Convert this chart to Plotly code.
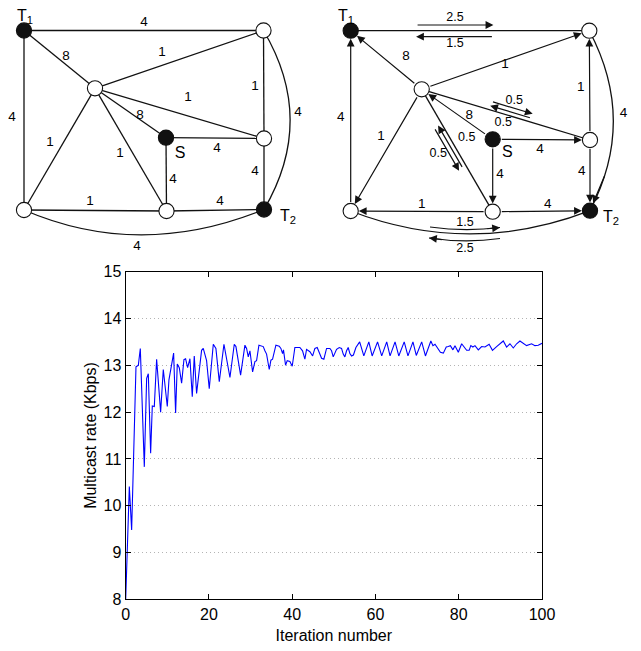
import math
import plotly.graph_objects as go

# ---------------- line chart data ----------------
iteration = [0, 0.87, 1.43, 2.47, 3.03, 3.51, 4.47, 5.03, 5.43, 5.99, 6.39, 6.87, 7.43, 8.39, 9.03,
             9.99, 10.39, 11.03, 11.51, 11.99, 12.39, 12.87, 13.43, 13.99, 14.39, 14.87, 15.43, 15.99,
             16.47, 17.03, 17.67, 18.23, 18.63, 19.43, 20.07, 21.04, 21.67, 22.48, 23.6, 25.04, 26.08,
             26.48, 27.6, 28.64, 29.04, 29.44, 29.84, 30.48, 31.04, 31.44, 32.0, 33.04, 33.44, 33.84,
             34.48, 34.88, 35.28, 36.08, 36.88, 37.28, 37.68, 37.9, 38.4, 38.8, 39.44, 40.0, 40.64,
             41.84, 42.48, 43.04, 43.44, 44.25, 44.9, 45.45, 46.0, 46.5, 47.05, 47.6, 48.25, 49.05,
             49.45, 49.85, 50.65, 51.3, 51.85, 52.25, 52.65, 53.05, 53.45, 53.85, 54.25, 54.7, 55.3,
             56.2, 57.2, 58.4, 59.2, 60.5, 61.5, 62.7, 63.5, 64.7, 65.6, 66.9, 67.8, 69.0, 69.8, 71.1,
             72.0, 73.3, 73.8, 74.3, 74.9, 75.6, 76.3, 77.0, 77.5, 78.0, 78.6, 79.1, 79.9, 80.7, 81.9,
             82.5, 82.9, 83.4, 83.9, 84.7, 85.5, 86.3, 87.3, 88.1, 89.1, 90.0, 90.7, 91.5, 92.3, 93.1,
             93.9, 94.7, 95.5, 96.3, 97.5, 98.3, 99.1, 100]
rate = [8.0, 10.41, 9.48, 12.97, 13.0, 13.36, 10.83, 12.72, 12.82, 11.12, 12.13, 12.12, 13.13, 12.0, 12.91,
        12.12, 12.69, 13.0, 13.26, 11.98, 13.03, 12.95, 12.62, 13.12, 13.14, 12.95, 13.14, 12.33,
        13.2, 12.4, 12.96, 13.32, 13.36, 13.1, 12.5, 13.45, 13.36, 12.65, 13.45, 12.74, 13.45,
        13.4, 12.79, 13.43, 13.36, 13.18, 13.31, 12.86, 13.08, 13.1, 13.43, 13.4, 13.31, 13.24,
        12.91, 13.11, 13.13, 13.43, 13.41, 13.36, 13.25, 13.33, 13.0, 13.1, 13.08, 12.98, 13.38,
        13.38, 13.31, 13.13, 13.34, 13.29, 13.2, 13.36, 13.38, 13.25, 13.15, 13.13, 13.36, 13.36,
        13.31, 13.18, 13.34, 13.38, 13.36, 13.24, 13.18, 13.31, 13.38, 13.25, 13.2, 13.22, 13.38,
        13.5, 13.2, 13.5, 13.2, 13.5, 13.2, 13.5, 13.2, 13.5, 13.2, 13.5, 13.2, 13.5, 13.21, 13.5,
        13.2, 13.52, 13.42, 13.45, 13.36, 13.28, 13.26, 13.39, 13.4, 13.42, 13.33, 13.42, 13.28, 13.46, 13.32,
        13.32, 13.42, 13.39, 13.42, 13.33, 13.4, 13.39, 13.45, 13.32, 13.4, 13.46, 13.52, 13.39, 13.46, 13.37,
        13.46, 13.52, 13.46, 13.42, 13.46, 13.42, 13.43, 13.47]
x_ticks = [0, 20, 40, 60, 80, 100]
y_ticks = [8, 9, 10, 11, 12, 13, 14, 15]

# ---------------- network diagrams (pixel layout of the drawing) ----------------
node_names = ["T1", "TR", "C", "S", "RM", "BL", "BM", "T2"]
node_filled = [True, False, False, True, False, False, False, True]
left_node_x = [24, 263.5, 95, 166, 264, 24, 166.5, 264]
left_node_y = [30.5, 30.5, 88.3, 137.7, 138.5, 210, 211, 209.5]
right_node_x = [350.7, 589.3, 421.7, 492.7, 590, 350.7, 492.7, 590]
right_node_y = [30.7, 30.7, 89.3, 139.3, 140, 211, 211.7, 210.7]

node_label_text = ["T<sub>1</sub>", "S", "T<sub>2</sub>"]
left_node_label_x = [25, 180, 288]
left_node_label_y = [17, 154, 217]
right_node_label_x = [346, 507.3, 611]
right_node_label_y = [17, 153.3, 218]

# left graph: undirected edges
left_edges = [("T1", "TR"), ("T1", "C"), ("T1", "BL"), ("C", "TR"), ("C", "RM"), ("C", "S"),
              ("C", "BL"), ("C", "BM"), ("TR", "RM"), ("S", "RM"), ("S", "BM"), ("RM", "T2"),
              ("BL", "BM"), ("BM", "T2")]
left_curves = [("TR", "T2"), ("BL", "T2")]
left_curve_ctrl_x = [316.5, 140]
left_curve_ctrl_y = [120, 260]
left_edge_labels = ["4", "8", "4", "1", "1", "8", "1", "1", "1", "4", "4", "4", "1", "4", "4", "4"]
left_label_x = [144, 66, 12, 162, 188, 140, 50, 120, 255, 217, 173, 255, 90, 220, 298, 137]
left_label_y = [23, 57, 118, 53, 98, 116, 143, 154, 87, 149, 180, 172, 202, 202, 113, 247]

# right graph: directed edges (tail -> head) and plain edges
right_arcs = [("C", "T1"), ("C", "TR"), ("C", "BL"), ("BL", "T1"), ("S", "C"), ("RM", "TR"),
              ("S", "RM"), ("S", "BM"), ("RM", "T2"), ("BM", "BL"), ("BM", "T2")]
right_plain = [("T1", "TR"), ("C", "RM"), ("C", "BM")]
right_curves = [("TR", "T2"), ("BL", "T2")]
right_curve_arrow = [True, False]
right_curve_ctrl_x = [637, 470]
right_curve_ctrl_y = [120.7, 257]
right_arc_labels = ["8", "1", "1", "4", "8", "1", "4", "4", "4", "1", "4", "4"]
right_label_x = [406, 505, 381, 340.7, 469.3, 580.7, 540, 500, 581.7, 421.7, 547.7, 623.5]
right_label_y = [57, 65, 137, 118, 116, 87.3, 149.3, 175, 171.7, 205, 205, 113.3]

# side flows on the right graph: (edge, forward?, start frac, end frac, perpendicular offset)
flow_edges = [("T1", "TR"), ("T1", "TR"), ("C", "RM"), ("C", "RM"), ("C", "BM"), ("C", "BM")]
flow_forward = [True, False, True, False, True, False]
flow_f0 = [0.274, 0.274, 0.40, 0.40, 0.28, 0.28]
flow_f1 = [0.598, 0.598, 0.645, 0.645, 0.63, 0.63]
flow_offset = [-5.7, 6.0, -8.5, -4.0, 8.5, 4.0]
flow_labels = ["2.5", "1.5", "0.5", "0.5", "0.5", "0.5"]
flow_label_x = [455, 455, 514.3, 503.3, 438.3, 466.7]
flow_label_y = [18.3, 44.3, 100.7, 123.3, 154, 138.3]
# curved side flows along the bottom curve
cflow_start_x = [430, 500]
cflow_start_y = [227, 238.5]
cflow_ctrl_x = [465, 465]
cflow_ctrl_y = [232, 243.5]
cflow_end_x = [500, 429]
cflow_end_y = [227.5, 238]
cflow_labels = ["1.5", "2.5"]
cflow_label_x = [465, 465]
cflow_label_y = [222.5, 249]

FONT = "Liberation Sans, Arial, sans-serif"
PAGE_W, PAGE_H = 641, 651
BODY = 8                       # the html page puts the figure 8px from the corner
W, H = PAGE_W - BODY, PAGE_H - BODY
TOP_H = 262                    # bottom of the diagram band, in page pixels
INK = "#111111"
TXT = "#000000"
NODE_R = 7.6

fig = go.Figure()
annotations = []
shapes = []


def pos(nx, ny, name):
    i = node_names.index(name)
    return nx[i], ny[i]


def bez(p0, c, p1, t):
    return ((1 - t) ** 2 * p0[0] + 2 * (1 - t) * t * c[0] + t * t * p1[0],
            (1 - t) ** 2 * p0[1] + 2 * (1 - t) * t * c[1] + t * t * p1[1])


def arrow(tail, head, stand_head=0.0, stand_tail=0.0):
    annotations.append(dict(
        x=head[0], y=head[1], ax=tail[0], ay=tail[1],
        xref="x2", yref="y2", axref="x2", ayref="y2",
        text="", showarrow=True, arrowhead=2, arrowsize=1.3, arrowwidth=1.2,
        arrowcolor=INK, standoff=stand_head, startstandoff=stand_tail))


def curve_path(p0, c, p1):
    return f"M {p0[0]},{p0[1]} Q {c[0]},{c[1]} {p1[0]},{p1[1]}"


# ---- left graph ----
ex, ey = [], []
for a, b in left_edges:
    pa, pb = pos(left_node_x, left_node_y, a), pos(left_node_x, left_node_y, b)
    ex += [pa[0], pb[0], None]
    ey += [pa[1], pb[1], None]
fig.add_trace(go.Scatter(x=ex, y=ey, mode="lines", line=dict(color=INK, width=1.3),
                         xaxis="x2", yaxis="y2", hoverinfo="skip", showlegend=False))
for (a, b), cx, cy in zip(left_curves, left_curve_ctrl_x, left_curve_ctrl_y):
    pa, pb = pos(left_node_x, left_node_y, a), pos(left_node_x, left_node_y, b)
    shapes.append(dict(type="path", xref="x2", yref="y2", path=curve_path(pa, (cx, cy), pb),
                       line=dict(color=INK, width=1.3), layer="below"))

# ---- right graph ----
ex, ey = [], []
for a, b in right_plain:
    pa, pb = pos(right_node_x, right_node_y, a), pos(right_node_x, right_node_y, b)
    ex += [pa[0], pb[0], None]
    ey += [pa[1], pb[1], None]
fig.add_trace(go.Scatter(x=ex, y=ey, mode="lines", line=dict(color=INK, width=1.3),
                         xaxis="x2", yaxis="y2", hoverinfo="skip", showlegend=False))
for a, b in right_arcs:
    pa, pb = pos(right_node_x, right_node_y, a), pos(right_node_x, right_node_y, b)
    arrow(pa, pb, NODE_R + 0.5, NODE_R)
for (a, b), cx, cy, has_arrow in zip(right_curves, right_curve_ctrl_x, right_curve_ctrl_y, right_curve_arrow):
    pa, pb = pos(right_node_x, right_node_y, a), pos(right_node_x, right_node_y, b)
    shapes.append(dict(type="path", xref="x2", yref="y2", path=curve_path(pa, (cx, cy), pb),
                       line=dict(color=INK, width=1.3), layer="below"))
    if has_arrow:
        arrow(bez(pa, (cx, cy), pb, 0.8), pb, NODE_R + 0.5, 0)

for (a, b), fwd, f0, f1, off in zip(flow_edges, flow_forward, flow_f0, flow_f1, flow_offset):
    pa, pb = pos(right_node_x, right_node_y, a), pos(right_node_x, right_node_y, b)
    dx, dy = pb[0] - pa[0], pb[1] - pa[1]
    L = math.hypot(dx, dy)
    nx, ny = -dy / L, dx / L
    s = (pa[0] + f0 * dx + off * nx, pa[1] + f0 * dy + off * ny)
    e = (pa[0] + f1 * dx + off * nx, pa[1] + f1 * dy + off * ny)
    if fwd:
        arrow(s, e)
    else:
        arrow(e, s)

for sx, sy, cx, cy, tx, ty in zip(cflow_start_x, cflow_start_y, cflow_ctrl_x, cflow_ctrl_y,
                                  cflow_end_x, cflow_end_y):
    shapes.append(dict(type="path", xref="x2", yref="y2",
                       path=curve_path((sx, sy), (cx, cy), (tx, ty)),
                       line=dict(color=INK, width=1.1), layer="below"))
    arrow(bez((sx, sy), (cx, cy), (tx, ty), 0.8), (tx, ty))

# ---- nodes ----
for nx_, ny_ in ((left_node_x, left_node_y), (right_node_x, right_node_y)):
    fig.add_trace(go.Scatter(
        x=nx_, y=ny_, mode="markers", xaxis="x2", yaxis="y2", hoverinfo="skip", showlegend=False,
        cliponaxis=False,
        marker=dict(size=2 * NODE_R, color=["#111111" if f else "white" for f in node_filled],
                    line=dict(color=INK, width=1.1))))

# ---- labels ----
text_sets = [
    (left_label_x, left_label_y, left_edge_labels, 13.5),
    (right_label_x, right_label_y, right_arc_labels, 13.5),
    (flow_label_x + cflow_label_x, flow_label_y + cflow_label_y, flow_labels + cflow_labels, 12.5),
    (left_node_label_x + right_node_label_x, left_node_label_y + right_node_label_y,
     node_label_text + node_label_text, 16),
]
for tx_, ty_, tt_, fs in text_sets:
    fig.add_trace(go.Scatter(x=tx_, y=ty_, text=tt_, mode="text", cliponaxis=False,
                             xaxis="x2", yaxis="y2", hoverinfo="skip", showlegend=False,
                             textfont=dict(family=FONT, size=fs, color=TXT)))

# ---- line chart ----
fig.add_trace(go.Scatter(x=iteration, y=rate, mode="lines", line=dict(color="#0000ff", width=1.1),
                         showlegend=False, hoverinfo="skip"))

# plot box in page pixels
plot_l, plot_r, plot_t, plot_b = 125.7, 542.0, 271.7, 599.3
axis_common = dict(showline=True, linecolor="black", linewidth=1.2, mirror="ticks",
                   ticks="inside", ticklen=5, tickcolor="black", zeroline=False,
                   tickfont=dict(family=FONT, size=16, color="black"))
fig.update_layout(
    width=W, height=H, autosize=False,
    margin=dict(l=0, r=0, t=0, b=0, pad=0),
    paper_bgcolor="white", plot_bgcolor="rgba(0,0,0,0)",
    font=dict(family=FONT, color="black"),
    xaxis=dict(domain=[(plot_l - BODY) / W, (plot_r - BODY) / W], range=[0, 100], tickvals=x_ticks,
               showgrid=False, anchor="y", automargin=False,
               title=dict(text="Iteration number", font=dict(size=16, family=FONT), standoff=8),
               **axis_common),
    yaxis=dict(domain=[(PAGE_H - plot_b) / H, (PAGE_H - plot_t) / H], range=[8, 15], tickvals=y_ticks,
               showgrid=True, gridcolor="#b4b4b4", griddash="1px,3px", gridwidth=1,
               anchor="x", automargin=False,
               title=dict(text="Multicast rate (Kbps)", font=dict(size=16, family=FONT), standoff=3),
               **axis_common),
    xaxis2=dict(domain=[0, 1], range=[BODY, PAGE_W], visible=False, anchor="y2", fixedrange=True),
    yaxis2=dict(domain=[(PAGE_H - TOP_H) / H, 1], range=[TOP_H, BODY], visible=False, anchor="x2",
                fixedrange=True),
    annotations=annotations,
    shapes=shapes,
)

fig.write_html("out.html")
